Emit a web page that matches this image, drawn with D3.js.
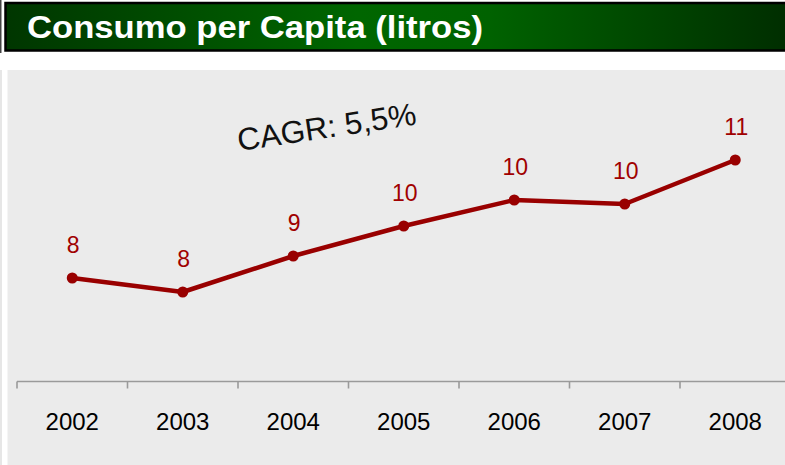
<!DOCTYPE html>
<html>
<head>
<meta charset="utf-8">
<script src="https://cdn.jsdelivr.net/npm/d3@7/dist/d3.min.js"></script>
<style>
  html, body { margin: 0; padding: 0; background: #ffffff; }
  svg { display: block; font-family: "Liberation Sans", Arial, sans-serif; }
</style>
</head>
<body>
<svg id="chart" width="785" height="465"></svg>
<script>
// ---- data ----
const title = "Consumo per Capita (litros)";
const annotation = "CAGR: 5,5%";
const years = ["2002", "2003", "2004", "2005", "2006", "2007", "2008"];
const consumo = [8.45, 8.1, 9.0, 9.75, 10.4, 10.3, 11.4];

const svg = d3.select("#chart");
const W = 785, H = 465;

// ---- header ----
const defs = svg.append("defs");
const grad = defs.append("linearGradient").attr("id", "hdr").attr("x1", "0%").attr("x2", "100%");
grad.append("stop").attr("offset", "0%").attr("stop-color", "#003600");
grad.append("stop").attr("offset", "45%").attr("stop-color", "#006600");
grad.append("stop").attr("offset", "62%").attr("stop-color", "#006200");
grad.append("stop").attr("offset", "100%").attr("stop-color", "#002e00");

svg.append("rect").attr("x", 0).attr("y", 0).attr("width", 1.5).attr("height", 53).attr("fill", "#444");
svg.append("rect").attr("x", 5.5).attr("y", 3).attr("width", 782).attr("height", 47.5)
  .attr("fill", "url(#hdr)").attr("stroke", "#000").attr("stroke-width", 2.5);
svg.append("text").attr("x", 27).attr("y", 37.5)
  .attr("fill", "#fff").attr("font-size", 31).attr("font-weight", "bold")
  .attr("textLength", 456).attr("lengthAdjust", "spacingAndGlyphs")
  .text(title);

// ---- panel ----
svg.append("rect").attr("x", 0).attr("y", 70).attr("width", 2).attr("height", H - 70).attr("fill", "#e6e6e6");
svg.append("rect").attr("x", 7.5).attr("y", 70).attr("width", W - 7.5).attr("height", H - 70).attr("fill", "#ebebeb");

// ---- scales ----
const x = d3.scaleBand().domain(years).range([17, 790.5]).padding(0);
const y = d3.scaleLinear().domain([6, 12]).range([376, 136]);
const cx = d => x(d) + x.bandwidth() / 2;

// ---- axis ----
const axisY = 381.5;
const axis = svg.append("g").attr("transform", `translate(0,${axisY})`)
  .call(d3.axisBottom(x).tickSize(0).tickPadding(0).tickFormat(""));
axis.select(".domain").attr("stroke", "#9a9a9a").attr("stroke-width", 1.6)
  .attr("d", `M17,0H${W}`);
const bounds = years.map(d => x(d)).concat([x.range()[1]]);
svg.append("g").selectAll("line").data(bounds).join("line")
  .attr("x1", d => d).attr("x2", d => d)
  .attr("y1", axisY).attr("y2", axisY + 7)
  .attr("stroke", "#9a9a9a").attr("stroke-width", 1.6);
svg.append("g").selectAll("text").data(years).join("text")
  .attr("x", d => cx(d)).attr("y", 429.5)
  .attr("text-anchor", "middle").attr("font-size", 24).attr("fill", "#000")
  .text(d => d);

// ---- line ----
const pts = years.map((d, i) => ({ year: d, v: consumo[i] }));
const red = "#990000";
svg.append("path").datum(pts)
  .attr("d", d3.line().x(d => cx(d.year)).y(d => y(d.v)))
  .attr("fill", "none").attr("stroke", red).attr("stroke-width", 4.5)
  .attr("stroke-linejoin", "round");
svg.append("g").selectAll("circle").data(pts).join("circle")
  .attr("cx", d => cx(d.year)).attr("cy", d => y(d.v)).attr("r", 5.5).attr("fill", red);
svg.append("g").selectAll("text").data(pts).join("text")
  .attr("x", d => cx(d.year) + 1).attr("y", d => y(d.v) - 25.5)
  .attr("text-anchor", "middle").attr("font-size", 23).attr("fill", "#a00000")
  .text(d => d3.format(".0f")(d.v));

// ---- annotation ----
svg.append("text").attr("x", 239).attr("y", 151)
  .attr("transform", "rotate(-8.5,239,151)")
  .attr("font-size", 31.5).attr("fill", "#111")
  .text(annotation);
</script>
</body>
</html>
